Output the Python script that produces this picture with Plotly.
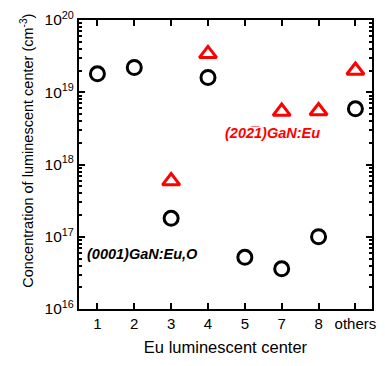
import plotly.graph_objects as go

# Eu luminescent centers and their concentrations (cm^-3)
centers = ["1", "2", "3", "4", "5", "7", "8", "others"]
c_0001 = [1.8e19, 2.2e19, 1.8e17, 1.6e19, 5.2e16, 3.6e16, 1.0e17, 5.9e18]
c_20m21 = [None, None, 5.9e17, 3.4e19, None, 5.4e18, 5.5e18, 2.0e19]

major_vals = [1e16, 1e17, 1e18, 1e19, 1e20]
major_text = ["10<sup>16</sup>", "10<sup>17</sup>", "10<sup>18</sup>",
              "10<sup>19</sup>", "10<sup>20</sup>"]
minor_vals = [float(m) * 10.0 ** e for e in range(16, 20) for m in range(2, 10)]

FONT = "Arial, Liberation Sans, sans-serif"

fig = go.Figure()
fig.add_trace(go.Scatter(
    x=centers, y=c_0001, mode="markers",
    marker=dict(symbol="circle-open", size=14, color="black",
                line=dict(width=3, color="black")),
    showlegend=False,
))
fig.add_trace(go.Scatter(
    x=centers, y=c_20m21, mode="markers",
    marker=dict(symbol="triangle-up-open", size=15, color="red",
                line=dict(width=3, color="red")),
    showlegend=False,
))

fig.add_annotation(x=1.23, y=16.76, xref="x", yref="y",
                   text="<b><i>(0001)GaN:Eu,O</i></b>", showarrow=False,
                   font=dict(size=14.5, color="black", family=FONT))
fig.add_annotation(x=4.76, y=18.43, xref="x", yref="y",
                   text="<b><i>(202\u03051)GaN:Eu</i></b>", showarrow=False,
                   font=dict(size=14.5, color="red", family=FONT))

# vertical axis title, placed slightly above the plot centre
fig.add_annotation(x=-0.178, y=0.547, xref="paper", yref="paper",
                   text="Concentration of luminescent center (cm<sup>-3</sup>)",
                   textangle=-90, showarrow=False, xanchor="center",
                   yanchor="middle", font=dict(size=14.5, color="black",
                                               family=FONT))

fig.update_layout(
    width=385, height=366,
    margin=dict(l=79, r=9, t=13, b=57),
    paper_bgcolor="white", plot_bgcolor="white",
    font=dict(family=FONT, size=14, color="black"),
    xaxis=dict(
        type="category", range=[-0.5, 7.45],
        showline=True, linecolor="black", linewidth=2, mirror="ticks",
        ticks="inside", ticklen=6, tickwidth=1.5, tickcolor="black",
        showgrid=False, zeroline=False,
        title=dict(text="Eu luminescent center", standoff=10,
                   font=dict(size=16.5)),
        tickfont=dict(size=15),
    ),
    yaxis=dict(
        type="log", range=[16, 20],
        showline=True, linecolor="black", linewidth=2, mirror="ticks",
        ticks="inside", ticklen=6, tickwidth=1.5, tickcolor="black",
        tickvals=major_vals, ticktext=major_text,
        minor=dict(tickvals=minor_vals, ticks="inside", ticklen=3,
                   tickwidth=1.5, tickcolor="black", showgrid=False),
        showgrid=False, zeroline=False,
        tickfont=dict(size=15.5),
    ),
)

fig.write_html("out.html")
